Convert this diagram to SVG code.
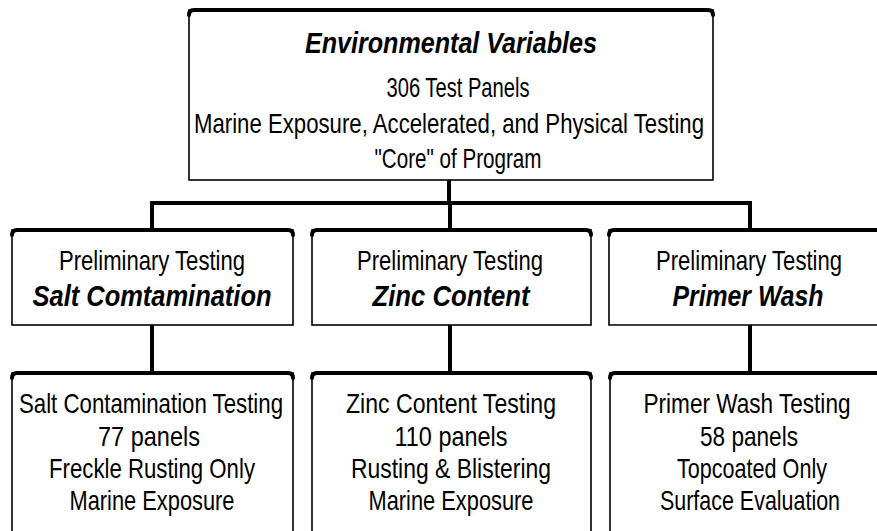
<svg xmlns="http://www.w3.org/2000/svg" width="877" height="531" viewBox="0 0 877 531">
<defs>
<style>
.box{fill:#fff;stroke:#000;stroke-width:1.6}
.top{fill:none;stroke:#000;stroke-width:4;stroke-linecap:round}
.conn{fill:none;stroke:#000;stroke-width:4}
text{font-family:"Liberation Sans Narrow","Liberation Sans",Arial,sans-serif;fill:#000;text-anchor:middle}
.r{font-size:28px}
.b{font-size:30px;font-weight:bold;font-style:italic}
</style>
</defs>
<rect width="877" height="531" fill="#fff"/>
<g id="connectors">
<path class="conn" d="M449 180 V203"/>
<path class="conn" d="M152 230 V203 H750 V230"/>
<path class="conn" d="M450 203 V230"/>
<path class="conn" d="M152 325 V373"/>
<path class="conn" d="M450 325 V373"/>
<path class="conn" d="M750 325 V373"/>
</g>
<g id="env">
<rect class="box" x="189" y="10" width="524" height="170"/>
<path class="top" d="M189 15 Q189 10 194 10 H708 Q713 10 713 15"/>
<text class="b" x="451" y="53" textLength="292" lengthAdjust="spacingAndGlyphs">Environmental Variables</text>
<text class="r" x="458" y="97" textLength="143" lengthAdjust="spacingAndGlyphs">306 Test Panels</text>
<text class="r" x="449" y="133" textLength="510" lengthAdjust="spacingAndGlyphs">Marine Exposure, Accelerated, and Physical Testing</text>
<text class="r" x="458" y="168" textLength="167" lengthAdjust="spacingAndGlyphs">"Core" of Program</text>
</g>
<g id="prelim-salt">
<rect class="box" x="12" y="230" width="281" height="95"/>
<path class="top" d="M12 235 Q12 230 17 230 H288 Q293 230 293 235"/>
<text class="r" x="152" y="270" textLength="186" lengthAdjust="spacingAndGlyphs">Preliminary Testing</text>
<text class="b" x="152" y="306" textLength="239" lengthAdjust="spacingAndGlyphs">Salt Comtamination</text>
</g>
<g id="prelim-zinc">
<rect class="box" x="312" y="230" width="279" height="95"/>
<path class="top" d="M312 235 Q312 230 317 230 H586 Q591 230 591 235"/>
<text class="r" x="450" y="270" textLength="186" lengthAdjust="spacingAndGlyphs">Preliminary Testing</text>
<text class="b" x="451" y="306" textLength="157" lengthAdjust="spacingAndGlyphs">Zinc Content</text>
</g>
<g id="prelim-primer">
<path class="box" d="M877 230 H609 V325 H877"/>
<path class="top" d="M609 235 Q609 230 614 230 H877"/>
<text class="r" x="749" y="270" textLength="186" lengthAdjust="spacingAndGlyphs">Preliminary Testing</text>
<text class="b" x="748" y="306" textLength="151" lengthAdjust="spacingAndGlyphs">Primer Wash</text>
</g>
<g id="test-salt">
<path class="box" d="M12 531 V373 H293 V531"/>
<path class="top" d="M12 378 Q12 373 17 373 H288 Q293 373 293 378"/>
<text class="r" x="151" y="413" textLength="264" lengthAdjust="spacingAndGlyphs">Salt Contamination Testing</text>
<text class="r" x="149" y="446" textLength="102" lengthAdjust="spacingAndGlyphs">77 panels</text>
<text class="r" x="152" y="478" textLength="206" lengthAdjust="spacingAndGlyphs">Freckle Rusting Only</text>
<text class="r" x="152" y="510" textLength="165" lengthAdjust="spacingAndGlyphs">Marine Exposure</text>
</g>
<g id="test-zinc">
<path class="box" d="M312 531 V373 H591 V531"/>
<path class="top" d="M312 378 Q312 373 317 373 H586 Q591 373 591 378"/>
<text class="r" x="451" y="413" textLength="210" lengthAdjust="spacingAndGlyphs">Zinc Content Testing</text>
<text class="r" x="451" y="446" textLength="113" lengthAdjust="spacingAndGlyphs">110 panels</text>
<text class="r" x="451" y="478" textLength="200" lengthAdjust="spacingAndGlyphs">Rusting &amp; Blistering</text>
<text class="r" x="451" y="510" textLength="165" lengthAdjust="spacingAndGlyphs">Marine Exposure</text>
</g>
<g id="test-primer">
<path class="box" d="M610 531 V373 H877"/>
<path class="top" d="M610 378 Q610 373 615 373 H877"/>
<text class="r" x="747" y="413" textLength="207" lengthAdjust="spacingAndGlyphs">Primer Wash Testing</text>
<text class="r" x="749" y="446" textLength="98" lengthAdjust="spacingAndGlyphs">58 panels</text>
<text class="r" x="752" y="478" textLength="150" lengthAdjust="spacingAndGlyphs">Topcoated Only</text>
<text class="r" x="750" y="510" textLength="180" lengthAdjust="spacingAndGlyphs">Surface Evaluation</text>
</g>
</svg>
